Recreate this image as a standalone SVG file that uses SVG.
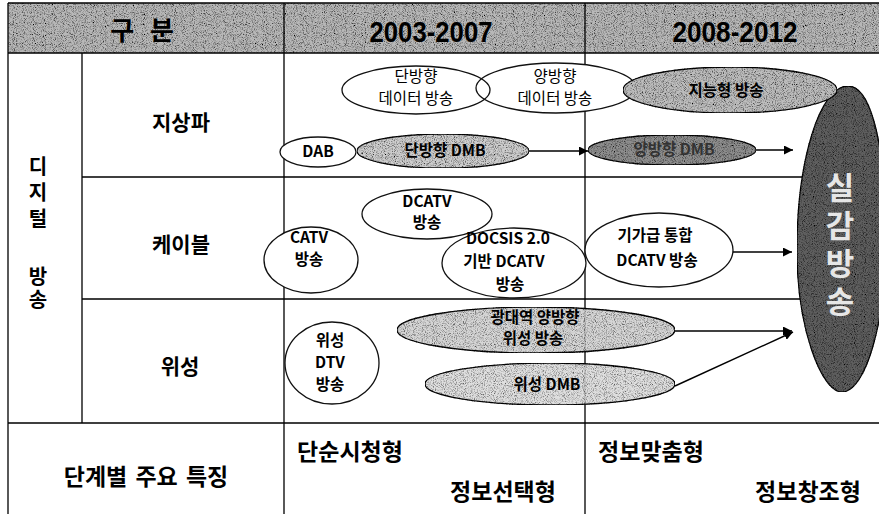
<svg xmlns="http://www.w3.org/2000/svg" width="879" height="514" viewBox="0 0 879 514">
<defs>
<style>
.grid{stroke:#000;stroke-width:1.3;fill:none}
.n{stroke:#111;stroke-width:1.3}
.w{fill:#fff}
.t{font-family:"Noto Sans CJK KR","Noto Sans",sans-serif;fill:#000;text-anchor:middle}
.b{font-weight:700}
.e{font-size:15.5px}
.lab{font-size:21px;font-weight:700}
.v{writing-mode:vertical-rl;text-orientation:upright}
.hd{font-family:"Liberation Sans","Noto Sans CJK KR",sans-serif;font-size:30px;font-weight:700;text-anchor:middle;fill:#000}
.c{stroke:#000;stroke-width:1.4;fill:none;marker-end:url(#ah)}
</style>
<marker id="ah" viewBox="0 0 10 10" refX="10" refY="5" markerWidth="9" markerHeight="9" markerUnits="userSpaceOnUse" orient="auto">
<path d="M0,0 L10,5 L0,10 Z" fill="#000"/>
</marker>
<filter id="grain" x="0" y="0" width="1" height="1">
<feTurbulence type="fractalNoise" baseFrequency="1.1" numOctaves="1" seed="4" result="noise"/>
<feColorMatrix in="noise" type="matrix" values="0 0 0 0 0 0 0 0 0 0 0 0 0 0 0 3 0 0 0 -1.35" result="dots"/>
<feComposite in="dots" in2="SourceAlpha" operator="in" result="d"/>
<feMerge><feMergeNode in="SourceGraphic"/><feMergeNode in="d"/></feMerge>
</filter>
</defs>
<rect x="0" y="0" width="879" height="514" fill="#fff"/>

<g id="header">
<rect x="8" y="3" width="871" height="50" fill="#b8b8b8" filter="url(#grain)"/>
<text class="t b" x="142" y="40" font-size="26" word-spacing="10">구 분</text>
<text class="hd" x="431" y="42" textLength="123" lengthAdjust="spacingAndGlyphs">2003-2007</text>
<text class="hd" x="735" y="42" textLength="125" lengthAdjust="spacingAndGlyphs">2008-2012</text>
</g>

<g id="grid">
<path class="grid" d="M8,3 H879 M8,53 H879 M82,177 H879 M82,299 H879 M8,423 H879 M8,3 V514 M82,53 V423 M284,3 V514 M585,3 V514"/>
</g>

<g id="labels">
<text class="t v" x="38" y="195" font-size="20" font-weight="700" letter-spacing="6">디지털</text>
<text class="t v" x="38" y="289" font-size="20" font-weight="700" letter-spacing="3">방송</text>
<text class="t lab" x="181" y="130">지상파</text>
<text class="t lab" x="181" y="252">케이블</text>
<text class="t lab" x="180" y="374">위성</text>
<text class="t" x="146" y="485" font-size="23" font-weight="700" word-spacing="3">단계별 주요 특징</text>
<text class="t" x="350" y="460" font-size="23" font-weight="700">단순시청형</text>
<text class="t" x="503" y="500" font-size="23" font-weight="700">정보선택형</text>
<text class="t" x="651" y="460" font-size="23" font-weight="700">정보맞춤형</text>
<text class="t" x="808" y="500" font-size="23" font-weight="700">정보창조형</text>
</g>

<g id="n-silgam">
<path class="n" d="M848,86 C872,86 886,150 886,240 C886,320 866,392 842,392 C822,392 797,330 797,250 C797,160 820,86 848,86 Z" fill="#5e5e5e" filter="url(#grain)"/>
<text class="t b v" x="840" y="248" font-size="31" letter-spacing="7" style="fill:#e6e6e6">실감방송</text>
</g>

<g id="n-yang-data">
<ellipse class="n w" cx="556" cy="88" rx="80" ry="25"/>
<text class="t e"><tspan x="555" y="82">양방향</tspan><tspan x="555" y="104">데이터 방송</tspan></text>
</g>
<g id="n-dan-data">
<ellipse class="n" cx="416" cy="90" rx="74" ry="24" fill="none"/>
<text class="t e"><tspan x="416" y="82">단방향</tspan><tspan x="416" y="104">데이터 방송</tspan></text>
</g>
<g id="n-smart">
<ellipse class="n" cx="730" cy="90" rx="107" ry="23" fill="#bdbdbd" filter="url(#grain)"/>
<text class="t e b" x="726" y="96">지능형 방송</text>
</g>
<g id="n-dab">
<ellipse class="n w" cx="318" cy="152" rx="38" ry="15"/>
<text class="t e b" x="318" y="157">DAB</text>
</g>
<g id="n-dan-dmb">
<ellipse class="n" cx="443" cy="151" rx="86" ry="17" fill="#cdcdcd" filter="url(#grain)"/>
<text class="t e b" x="445" y="156">단방향 DMB</text>
</g>
<g id="n-yang-dmb">
<ellipse class="n" cx="672" cy="150" rx="84" ry="15" fill="#8e8e8e" filter="url(#grain)"/>
<text class="t e b" x="674" y="155" style="fill:#333">양방향 DMB</text>
</g>

<g id="n-dcatv">
<ellipse class="n w" cx="427" cy="214" rx="65" ry="25"/>
<text class="t e b"><tspan x="427" y="207">DCATV</tspan><tspan x="427" y="228">방송</tspan></text>
</g>
<g id="n-catv">
<ellipse class="n w" cx="311" cy="260" rx="47" ry="33"/>
<text class="t e b"><tspan x="309" y="243">CATV</tspan><tspan x="309" y="265">방송</tspan></text>
</g>
<g id="n-docsis">
<ellipse class="n w" cx="514" cy="263" rx="72" ry="35"/>
<text class="t e b"><tspan x="508" y="244">DOCSIS 2.0</tspan><tspan x="504" y="267">기반 DCATV</tspan><tspan x="510" y="290">방송</tspan></text>
</g>
<g id="n-giga">
<ellipse class="n w" cx="659" cy="250" rx="74" ry="37"/>
<text class="t e b"><tspan x="655" y="241">기가급 통합</tspan><tspan x="657" y="266">DCATV 방송</tspan></text>
</g>

<g id="n-sat-dtv">
<ellipse class="n w" cx="332" cy="363" rx="47" ry="41"/>
<text class="t e b"><tspan x="330" y="346">위성</tspan><tspan x="330" y="368">DTV</tspan><tspan x="330" y="390">방송</tspan></text>
</g>
<g id="n-wideband">
<ellipse class="n" cx="536" cy="330" rx="139" ry="23" fill="#cfcfcf" fill-opacity="0.85" filter="url(#grain)"/>
<text class="t e b"><tspan x="535" y="323">광대역 양방향</tspan><tspan x="533" y="344">위성 방송</tspan></text>
</g>
<g id="n-sat-dmb">
<ellipse class="n" cx="550" cy="384" rx="125" ry="21" fill="#d9d9d9" fill-opacity="0.85" filter="url(#grain)"/>
<text class="t e b" x="547" y="390">위성 DMB</text>
</g>

<g id="connectors">
<line class="c" x1="529" y1="151" x2="588" y2="151"/>
<line class="c" x1="756" y1="150" x2="793" y2="150"/>
<line class="c" x1="733" y1="252" x2="792" y2="252"/>
<line class="c" x1="675" y1="331" x2="792" y2="331"/>
<line class="c" x1="675" y1="386" x2="793" y2="332"/>
</g>
</svg>
